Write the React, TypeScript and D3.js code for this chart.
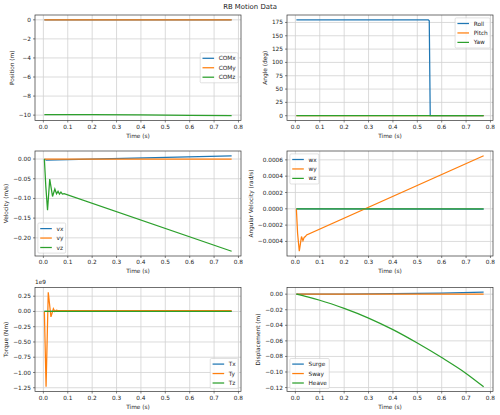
import React from "react";
import * as d3 from "d3";

const W = 500;
const H = 415;
const FONT = '"DejaVu Sans", sans-serif';
const FS = 5.8;
const TITLE_FS = 6.9;
const LINE_W = 1.25;
const BLUE = "#1f77b4";
const ORANGE = "#ff7f0e";
const GREEN = "#2ca02c";

const figTitle = "RB Motion Data";
const xLabel = "Time (s)";
const xTicks = [0, 0.1, 0.2, 0.3, 0.4, 0.5, 0.6, 0.7, 0.8];

// Position (m)
const comxTime = [0.004, 0.2, 0.4, 0.6, 0.772];
const comxValues = [0, 0.0002, 0.0008, 0.0015, 0.0023];
const comyTime = [0.004, 0.772];
const comyValues = [0, 0];
const comzTime = [0.004, 0.2, 0.4, 0.6, 0.772];
const comzValues = [-9.94, -9.958, -9.985, -10.02, -10.06];
const positionTicks = [-10, -8, -6, -4, -2, 0];

// Angle (deg)
const rollTime = [0.004, 0.545, 0.549, 0.553, 0.772];
const rollValues = [180, 180, 178, 0, 0];
const pitchTime = [0.004, 0.772];
const pitchValues = [0, 0];
const yawTime = [0.004, 0.772];
const yawValues = [0, 0];
const angleTicks = [0, 25, 50, 75, 100, 125, 150, 175];

// Velocity (m/s)
const vxTime = [0.004, 0.012, 0.772];
const vxValues = [0, -0.003, 0.0083];
const vyTime = [0.004, 0.772];
const vyValues = [0, 0];
const vzTime = [0.004, 0.01, 0.017, 0.026, 0.0375, 0.047, 0.054, 0.06, 0.066, 0.072, 0.078, 0.085, 0.772];
const vzValues = [0, -0.07, -0.13, -0.051, -0.095, -0.076, -0.088, -0.082, -0.089, -0.084, -0.089, -0.088, -0.234];
const velocityTicks = [-0.2, -0.15, -0.1, -0.05, 0];

// Angular velocity (rad/s)
const wxTime = [0.004, 0.772];
const wxValues = [0, -0.000005];
const wyTime = [0.004, 0.009, 0.016, 0.025, 0.031, 0.036, 0.041, 0.046, 0.772];
const wyValues = [0, -0.0003, -0.00052, -0.00034, -0.00039, -0.00035, -0.00034, -0.00032, 0.00065];
const wzTime = [0.004, 0.772];
const wzValues = [0, 0];
const angVelTicks = [-0.0004, -0.0002, 0, 0.0002, 0.0004, 0.0006];

// Torque (Nm)
const txTime = [0.004, 0.772];
const txValues = [0, 0];
const tyTime = [0.004, 0.011, 0.02, 0.031, 0.041, 0.047, 0.053, 0.06, 0.772];
const tyValues = [0, -1.234e9, 0.315e9, -0.09e9, 0.045e9, 0, 0.02e9, 0.015e9, 0.015e9];
const tzTime = [0.004, 0.772];
const tzValues = [0, 0];
const torqueTicks = [-1.25e9, -1e9, -0.75e9, -0.5e9, -0.25e9, 0, 0.25e9];

// Displacement (m)
const surgeTime = [0.004, 0.2, 0.4, 0.6, 0.772];
const surgeValues = [0, 0.0001, 0.0006, 0.0014, 0.0025];
const swayTime = [0.004, 0.772];
const swayValues = [0, 0];
const heaveTime = [0.004, 0.05, 0.1, 0.2, 0.3, 0.4, 0.5, 0.6, 0.7, 0.772];
const heaveValues = [0, -0.0035, -0.0078, -0.0183, -0.0307, -0.0456, -0.0628, -0.0815, -0.1018, -0.119];
const displacementTicks = [-0.12, -0.1, -0.08, -0.06, -0.04, -0.02, 0];

type Series = { label: string; t: number[]; v: number[]; color: string; smooth?: boolean };
type LegendLoc = "upper right" | "upper left" | "lower left" | "lower right" | "center right";
type Panel = {
  ylabel: string;
  series: Series[];
  yTicks: number[];
  decimals: number;
  scale?: number;
  offsetText?: string;
  legend: LegendLoc;
  box: { l: number; t: number; r: number; b: number };
};

const COLS = [
  [35, 241],
  [287, 493],
];
const ROWS = [
  [15, 120.5],
  [151, 256],
  [287.5, 391.5],
];
const cell = (r: number, c: number) => ({ l: COLS[c][0], r: COLS[c][1], t: ROWS[r][0], b: ROWS[r][1] });

const panels: Panel[] = [
  {
    ylabel: "Position (m)",
    series: [
      { label: "COMx", t: comxTime, v: comxValues, color: BLUE },
      { label: "COMy", t: comyTime, v: comyValues, color: ORANGE },
      { label: "COMz", t: comzTime, v: comzValues, color: GREEN },
    ],
    yTicks: positionTicks,
    decimals: 0,
    legend: "center right",
    box: cell(0, 0),
  },
  {
    ylabel: "Angle (deg)",
    series: [
      { label: "Roll", t: rollTime, v: rollValues, color: BLUE },
      { label: "Pitch", t: pitchTime, v: pitchValues, color: ORANGE },
      { label: "Yaw", t: yawTime, v: yawValues, color: GREEN },
    ],
    yTicks: angleTicks,
    decimals: 0,
    legend: "upper right",
    box: cell(0, 1),
  },
  {
    ylabel: "Velocity (m/s)",
    series: [
      { label: "vx", t: vxTime, v: vxValues, color: BLUE },
      { label: "vy", t: vyTime, v: vyValues, color: ORANGE },
      { label: "vz", t: vzTime, v: vzValues, color: GREEN },
    ],
    yTicks: velocityTicks,
    decimals: 2,
    legend: "lower left",
    box: cell(1, 0),
  },
  {
    ylabel: "Angular Velocity (rad/s)",
    series: [
      { label: "wx", t: wxTime, v: wxValues, color: BLUE },
      { label: "wy", t: wyTime, v: wyValues, color: ORANGE },
      { label: "wz", t: wzTime, v: wzValues, color: GREEN },
    ],
    yTicks: angVelTicks,
    decimals: 4,
    legend: "upper left",
    box: cell(1, 1),
  },
  {
    ylabel: "Torque (Nm)",
    series: [
      { label: "Tx", t: txTime, v: txValues, color: BLUE },
      { label: "Ty", t: tyTime, v: tyValues, color: ORANGE },
      { label: "Tz", t: tzTime, v: tzValues, color: GREEN },
    ],
    yTicks: torqueTicks,
    decimals: 2,
    scale: 1e9,
    offsetText: "1e9",
    legend: "lower right",
    box: cell(2, 0),
  },
  {
    ylabel: "Displacement (m)",
    series: [
      { label: "Surge", t: surgeTime, v: surgeValues, color: BLUE },
      { label: "Sway", t: swayTime, v: swayValues, color: ORANGE },
      { label: "Heave", t: heaveTime, v: heaveValues, color: GREEN, smooth: true },
    ],
    yTicks: displacementTicks,
    decimals: 2,
    legend: "lower left",
    box: cell(2, 1),
  },
];

let ctx: CanvasRenderingContext2D | null = null;
function textWidth(s: string, size: number) {
  if (!ctx) ctx = document.createElement("canvas").getContext("2d");
  if (!ctx) return s.length * size * 0.6;
  ctx.font = `${size}px "DejaVu Sans"`;
  return ctx.measureText(s).width;
}

function fmt(v: number, decimals: number) {
  const s = (Math.abs(v) < 1e-12 ? 0 : v).toFixed(decimals);
  return s.replace("-", "\u2212");
}

function padded(lo: number, hi: number): [number, number] {
  const m = (hi - lo) * 0.05;
  return [lo - m, hi + m];
}

function PanelView({ p }: { p: Panel }) {
  const { l, t, r, b } = p.box;
  const allT = p.series.flatMap((s) => s.t);
  const allV = p.series.flatMap((s) => s.v);
  const x = d3.scaleLinear().domain(padded(d3.min(allT)!, d3.max(allT)!)).range([l, r]);
  const y = d3.scaleLinear().domain(padded(d3.min(allV)!, d3.max(allV)!)).range([b, t]);
  const k = p.scale ?? 1;
  const yLabels = p.yTicks.map((v) => fmt(v / k, p.decimals));
  const maxW = d3.max(yLabels, (s) => textWidth(s, FS)) ?? 0;
  const ylabelX = l - 4 - maxW - 7.1;

  // legend geometry
  const pad = 0.4 * FS;
  const textH = 1.13 * FS;
  const gap = 0.5 * FS;
  const n = p.series.length;
  const lw = 2 * pad + 2.8 * FS + (d3.max(p.series, (s) => textWidth(s.label, FS)) ?? 0);
  const lh = 2 * pad + n * textH + (n - 1) * gap;
  const axpad = 0.5 * FS;
  let lx = l + axpad;
  let ly = t + axpad;
  if (p.legend.includes("right")) lx = r - axpad - lw;
  if (p.legend.startsWith("lower")) ly = b - axpad - lh;
  if (p.legend.startsWith("center")) ly = (t + b) / 2 - lh / 2;

  return (
    <g>
      {/* grid */}
      <g stroke="#d2d2d2" strokeWidth={0.8}>
        {xTicks.map((v) => (
          <line key={"gx" + v} x1={x(v)} x2={x(v)} y1={t} y2={b} />
        ))}
        {p.yTicks.map((v) => (
          <line key={"gy" + v} x1={l} x2={r} y1={y(v)} y2={y(v)} />
        ))}
      </g>
      {/* series */}
      {p.series.map((s) => {
        const line = d3
          .line<number>()
          .x((_, i) => x(s.t[i]))
          .y((d) => y(d))
          .curve(s.smooth ? d3.curveMonotoneX : d3.curveLinear);
        return <path key={s.label} d={line(s.v) ?? ""} fill="none" stroke={s.color} strokeWidth={LINE_W} />;
      })}
      {/* spines */}
      <rect x={l} y={t} width={r - l} height={b - t} fill="none" stroke="#333" strokeWidth={0.7} />
      {/* ticks and labels */}
      <g fontFamily={FONT} fontSize={FS} fill="#222">
        {xTicks.map((v) => (
          <g key={"tx" + v}>
            <line x1={x(v)} x2={x(v)} y1={b} y2={b + 2} stroke="#333" strokeWidth={0.6} />
            <text x={x(v)} y={b + 4} dy="0.76em" textAnchor="middle">
              {fmt(v, 1)}
            </text>
          </g>
        ))}
        {p.yTicks.map((v, i) => (
          <g key={"ty" + v}>
            <line x1={l - 2} x2={l} y1={y(v)} y2={y(v)} stroke="#333" strokeWidth={0.6} />
            <text x={l - 4} y={y(v)} dy="0.35em" textAnchor="end">
              {yLabels[i]}
            </text>
          </g>
        ))}
        <text x={(l + r) / 2} y={b + 15} dy="0.35em" textAnchor="middle">
          {xLabel}
        </text>
        <text
          transform={`translate(${ylabelX},${(t + b) / 2}) rotate(-90)`}
          dy="0.35em"
          textAnchor="middle"
        >
          {p.ylabel}
        </text>
        {p.offsetText && (
          <text x={l} y={t - 4}>
            {p.offsetText}
          </text>
        )}
      </g>
      {/* legend */}
      <g fontFamily={FONT} fontSize={FS} fill="#222">
        <rect x={lx} y={ly} width={lw} height={lh} rx={1.2} fill="#fff" fillOpacity={0.8} stroke="#ccc" strokeWidth={0.6} />
        {p.series.map((s, i) => {
          const cy = ly + pad + textH / 2 + i * (textH + gap);
          return (
            <g key={"lg" + s.label}>
              <line x1={lx + pad} x2={lx + pad + 2 * FS} y1={cy} y2={cy} stroke={s.color} strokeWidth={LINE_W} />
              <text x={lx + pad + 2.8 * FS} y={cy} dy="0.35em">
                {s.label}
              </text>
            </g>
          );
        })}
      </g>
    </g>
  );
}

export default function App() {
  return (
    <svg
      width={W}
      height={H}
      viewBox={`0 0 ${W} ${H}`}
      style={{ display: "block", background: "#fff", position: "absolute", left: 0, top: 0 }}
    >
      <text x={W / 2} y={7} dy="0.35em" textAnchor="middle" fontFamily={FONT} fontSize={TITLE_FS} fill="#222">
        {figTitle}
      </text>
      {panels.map((p) => (
        <PanelView key={p.ylabel} p={p} />
      ))}
    </svg>
  );
}
